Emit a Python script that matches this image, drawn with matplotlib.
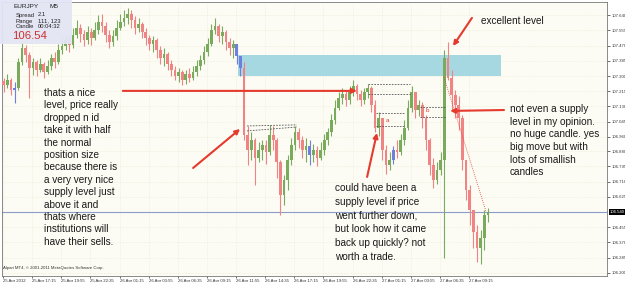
import matplotlib.pyplot as plt
from matplotlib.patches import Rectangle
import matplotlib.transforms as mtransforms

# -----------------------------
# Data (EURJPY, 20-minute candles)
# -----------------------------
first_open = 107.270
closes = [107.250, 107.278, 107.222, 107.233, 107.379, 107.457, 107.418, 107.345, 107.379, 107.334,
          107.368, 107.323, 107.356, 107.401, 107.379, 107.446, 107.468, 107.502, 107.474, 107.530,
          107.569, 107.535, 107.502, 107.547, 107.513, 107.558, 107.602, 107.580, 107.530, 107.491,
          107.524, 107.569, 107.602, 107.625, 107.647, 107.614, 107.569, 107.591, 107.547, 107.513,
          107.479, 107.502, 107.446, 107.401, 107.424, 107.368, 107.334, 107.300, 107.323, 107.278,
          107.312, 107.289, 107.323, 107.356, 107.390, 107.435, 107.479, 107.558, 107.580, 107.524,
          107.547, 107.491, 107.457, 107.479, 107.412, 107.345, 106.971, 106.887, 106.943, 106.842,
          106.887, 106.915, 106.876, 106.971, 106.943, 106.820, 106.635, 106.719, 106.831, 106.915,
          106.987, 106.943, 106.887, 106.909, 106.859, 106.887, 106.842, 106.887, 106.943, 106.987,
          107.054, 107.122, 107.177, 107.200, 107.166, 107.211, 107.245, 107.200, 107.166, 107.211,
          107.233, 107.138, 107.010, 107.066, 106.887, 106.803, 106.831, 106.887, 106.876, 106.943,
          107.010, 107.122, 107.211, 107.110, 107.138, 107.066, 106.943, 106.803, 106.719, 106.775,
          106.831, 107.401, 107.289, 107.194, 107.138, 107.066, 106.831, 106.663, 106.551, 106.428,
          106.339, 106.395, 106.523, 106.540]
highs = [107.289, 107.312, 107.289, 107.267, 107.401, 107.491, 107.474, 107.435, 107.401, 107.390,
         107.401, 107.379, 107.390, 107.424, 107.435, 107.479, 107.513, 107.530, 107.524, 107.569,
         107.614, 107.591, 107.558, 107.580, 107.569, 107.602, 107.642, 107.647, 107.602, 107.558,
         107.558, 107.614, 107.647, 107.670, 107.681, 107.670, 107.636, 107.625, 107.602, 107.569,
         107.530, 107.524, 107.513, 107.468, 107.457, 107.435, 107.390, 107.356, 107.345, 107.334,
         107.334, 107.345, 107.356, 107.390, 107.418, 107.468, 107.513, 107.591, 107.625, 107.591,
         107.580, 107.558, 107.513, 107.502, 107.479, 107.412, 107.379, 107.021, 106.987, 106.954,
         106.931, 106.943, 106.943, 107.027, 107.021, 106.954, 106.831, 106.747, 106.859, 106.954,
         107.021, 107.010, 106.965, 106.954, 106.943, 106.920, 106.909, 106.931, 106.976, 107.010,
         107.088, 107.166, 107.211, 107.233, 107.222, 107.245, 107.278, 107.256, 107.222, 107.233,
         107.256, 107.245, 107.166, 107.099, 107.066, 106.915, 106.876, 106.909, 106.943, 106.976,
         107.054, 107.166, 107.245, 107.211, 107.166, 107.155, 107.082, 106.954, 106.842, 106.820,
         106.876, 107.446, 107.491, 107.334, 107.222, 107.189, 107.082, 106.831, 106.691, 106.551,
         106.467, 106.439, 106.551, 106.562]
lows = [107.211, 107.233, 107.194, 107.150, 107.222, 107.362, 107.379, 107.177, 107.306, 107.300,
        107.323, 107.289, 107.312, 107.334, 107.345, 107.368, 107.424, 107.446, 107.435, 107.457,
        107.513, 107.491, 107.468, 107.479, 107.474, 107.502, 107.535, 107.547, 107.491, 107.457,
        107.468, 107.502, 107.558, 107.580, 107.591, 107.569, 107.535, 107.547, 107.513, 107.474,
        107.446, 107.435, 107.401, 107.368, 107.356, 107.334, 107.300, 107.278, 107.267, 107.250,
        107.256, 107.267, 107.278, 107.300, 107.334, 107.368, 107.412, 107.468, 107.535, 107.491,
        107.479, 107.446, 107.418, 107.401, 107.368, 107.300, 106.943, 106.803, 106.831, 106.691,
        106.820, 106.831, 106.808, 106.859, 106.887, 106.730, 106.523, 106.579, 106.663, 106.803,
        106.887, 106.898, 106.842, 106.820, 106.803, 106.820, 106.797, 106.831, 106.859, 106.915,
        106.965, 107.032, 107.110, 107.144, 107.133, 107.144, 107.189, 107.166, 107.133, 107.144,
        107.177, 107.099, 106.987, 106.965, 106.831, 106.753, 106.775, 106.808, 106.842, 106.859,
        106.915, 106.999, 107.099, 107.066, 107.077, 107.010, 106.887, 106.747, 106.674, 106.697,
        106.747, 106.283, 107.278, 107.110, 107.066, 106.999, 106.775, 106.607, 106.467, 106.339,
        106.260, 106.249, 106.327, 106.484]
blue_bars = [3, 64, 65, 84, 107]

last_price = 106.54
y_ticks = [107.640, 107.555, 107.470, 107.385, 107.300, 107.215, 107.130, 107.045, 106.960,
           106.880, 106.795, 106.710, 106.625, 106.455, 106.370, 106.285, 106.200]
x_labels = ["25 Apr 2012", "25 Apr 17:15", "25 Apr 19:55", "25 Apr 22:35", "26 Apr 01:15",
            "26 Apr 03:55", "26 Apr 06:35", "26 Apr 09:15", "26 Apr 11:55", "26 Apr 14:35",
            "26 Apr 17:15", "26 Apr 19:55", "26 Apr 22:35", "27 Apr 01:15", "27 Apr 03:55",
            "27 Apr 06:35", "27 Apr 09:15"]
bars_per_label = 8

# supply zone and drawn levels (bar index, price)
zone = (64.3, 136.6, 107.300, 107.418)
dashed_levels = [((66.8, 107.021), (80.5, 107.027)), ((66.8, 106.993), (80.5, 107.015)),
                 ((100.0, 107.256), (111.6, 107.256)), ((100.0, 107.200), (111.6, 107.200)),
                 ((102.2, 107.094), (109.9, 107.094)), ((102.2, 107.021), (109.9, 107.021)),
                 ((114.3, 107.127), (121.2, 107.127)), ((114.3, 107.071), (121.2, 107.071))]
arrows = [((32.7, 107.217), (97.0, 107.217)), ((52.0, 106.786), (64.9, 107.004)),
          ((99.8, 106.736), (102.5, 106.982)), ((128.6, 107.625), (123.4, 107.468)),
          ((137.4, 107.110), (122.6, 107.105))]
trend = ((120.9, 107.295), (132.5, 106.540))

W, H = 625, 282
UP = '#7aab5c'
DOWN = '#f08484'
BLUE = '#6f7fe0'
RED = '#e53a2e'
plt.rcParams['font.family'] = ['Liberation Sans', 'DejaVu Sans']

fig = plt.figure(figsize=(W / 100, H / 100), dpi=100)
fig.patch.set_facecolor('white')
ax = fig.add_axes([2 / W, 6 / H, 605 / W, 274 / H])
ax.set_facecolor('#fcfcf4')

# -----------------------------
# Candles
# -----------------------------
opens = [first_open] + closes[:-1]
for i, (o, h, l, c) in enumerate(zip(opens, highs, lows, closes)):
    col = UP if c >= o else DOWN
    if i in blue_bars:
        col = BLUE
    ax.vlines(i, l, h, color=col, lw=0.8, zorder=3)
    ax.bar(i, max(abs(c - o), 0.004), bottom=min(o, c), width=0.75, color=col, lw=0, zorder=3)

# supply zone
ax.add_patch(Rectangle((zone[0], zone[2]), zone[1] - zone[0], zone[3] - zone[2],
                       facecolor='#a6d8e2', edgecolor='none', zorder=2))

# current price line
ax.axhline(last_price, color='#8c9cc8', lw=0.8, zorder=2)

for (x0, y0), (x1, y1) in dashed_levels:
    ax.plot([x0, x1], [y0, y1], color='#555555', lw=0.6, ls=(0, (2, 1.5)), zorder=4)
ax.text(105.3, 107.049, "a", color=RED, fontsize=4.5, ha='center', va='center', zorder=5)
ax.text(116.3, 107.105, "b", color=RED, fontsize=4.5, ha='center', va='center', zorder=5)

ax.plot([trend[0][0], trend[1][0]], [trend[0][1], trend[1][1]], color=RED, lw=0.6, ls=(0, (1, 1.5)), zorder=5)

for start, end in arrows:
    ax.annotate('', xy=end, xytext=start,
                arrowprops=dict(arrowstyle='-|>', color=RED, lw=1.5, mutation_scale=7,
                                shrinkA=0, shrinkB=0), zorder=6)

# -----------------------------
# Axes
# -----------------------------
ax.set_xlim(-0.5, 165.7)
ax.set_ylim(106.182, 107.714)
ax.yaxis.tick_right()
ax.set_yticks(y_ticks)
ax.set_yticklabels([f"{v:.3f}" for v in y_ticks])
ax.set_xticks([k * bars_per_label - 0.2 for k in range(len(x_labels))])
ax.set_xticklabels(x_labels)
for lab in ax.get_xticklabels():
    lab.set_horizontalalignment('left')
ax.tick_params(axis='y', labelsize=3.1, colors='#333333', length=2, width=0.5, pad=1)
ax.tick_params(axis='x', labelsize=3.1, colors='#333333', length=1.5, width=0.5, pad=0.8)
ax.grid(True, color='#e4e4c8', lw=0.4, ls=':')
for s in ax.spines.values():
    s.set_color('#777777')
    s.set_linewidth(0.6)

trans = mtransforms.blended_transform_factory(ax.transAxes, ax.transData)
ax.text(1.004, last_price, f"{last_price:.3f}", transform=trans, fontsize=3.1, color='white',
        ha='left', va='center', zorder=7,
        bbox=dict(boxstyle='square,pad=0.15', facecolor='black', edgecolor='none'))

# -----------------------------
# Info box and notes (figure pixels)
# -----------------------------
def px(x, y):
    return x / W, 1 - y / H

fig.patches.append(Rectangle(px(0, 44), 72 / W, 44 / H, transform=fig.transFigure,
                             facecolor='#e3e5f5', edgecolor='none', alpha=0.95, zorder=10))
fig.text(*px(14, 7), "EURJPY", fontsize=4.6, va='center', color='#222222', zorder=11)
fig.text(*px(49, 7), "M5", fontsize=4.6, va='center', color='#222222', zorder=11)
for y, k, v in [(15, "Spread", "2.1"), (21, "Range", "111, 123"), (27, "Candle", "00:04:32")]:
    fig.text(*px(16, y), k, fontsize=4.2, va='center', color='#222222', zorder=11)
    fig.text(*px(38, y), v, fontsize=4.2, va='center', color='#222222', zorder=11)
fig.text(*px(12, 36), "106.54", fontsize=8.2, va='center', color='#d03030', zorder=11)

fig.text(*px(3, 268), "Alpari MT4, \u00a9 2001-2011 MetaQuotes Software Corp.",
         fontsize=3.1, va='center', color='#333333')

note_style = dict(fontsize=7.2, color='#1a1a1a', va='top', ha='left', zorder=12)
fig.text(*px(44, 88), "thats a nice\nlevel, price really\ndropped n id\ntake it with half\n"
         "the normal\nposition size\nbecause there is\na very very nice\nsupply level just\n"
         "above it and\nthats where\ninstitutions will\nhave their sells.",
         linespacing=1.30, **note_style)
fig.text(*px(335, 183), "could have been a\nsupply level if price\nwent further down,\n"
         "but look how it came\nback up quickly? not\nworth a trade.",
         linespacing=1.47, **note_style)
fig.text(*px(510, 104), "not even a supply\nlevel in my opinion.\nno huge candle. yes\n"
         "big move but with\nlots of smallish\ncandles",
         linespacing=1.33, **note_style)
fig.text(*px(481, 16), "excellent level", **note_style)

fig.savefig("out.png", dpi=100)
